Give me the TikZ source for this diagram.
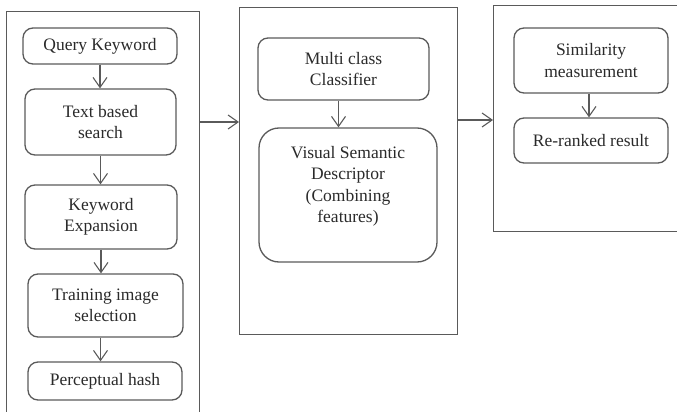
\documentclass[tikz,border=0pt]{standalone}
\usepackage{fontspec}
\setmainfont{Liberation Serif}
\usetikzlibrary{arrows.meta,positioning}
\definecolor{edge}{HTML}{5A5A5A}
\definecolor{ink}{HTML}{2A2A2A}
\tikzset{
  stepbox/.style={draw=edge, line width=1.3pt, rounded corners=10pt, align=center,
    text=ink, font=\fontsize{17.5}{21.5}\selectfont, inner sep=0pt},
  container/.style={draw=edge, line width=1.4pt, inner sep=0pt},
  arr/.style={draw=edge, line width=1.1pt, -{Straight Barb[length=10pt,width=14pt,line width=1.1pt]}}
}
\begin{document}
\begin{tikzpicture}[x=1pt,y=-1pt]
\useasboundingbox (0,0) rectangle (677,412);
\clip (0,0) rectangle (677,412);
% containers
\node[container, minimum width=193pt, minimum height=414pt, anchor=north west] (L) at (6,11) {};
\node[container, minimum width=218pt, minimum height=327pt, anchor=north west] (M) at (239,7) {};
\node[container, minimum width=200pt, minimum height=226pt, anchor=north west] (R) at (493,5) {};
% left column
\node[stepbox, minimum width=154pt, minimum height=36pt] (q) at (100,46) {Query Keyword};
\node[stepbox, minimum width=151pt, minimum height=66pt] (t) at (100.5,122) {Text based\\search};
\node[stepbox, minimum width=152pt, minimum height=64pt] (k) at (101,217) {Keyword\\Expansion};
\node[stepbox, minimum width=155pt, minimum height=63pt] (tr) at (105.5,305.5) {Training image\\selection};
\node[stepbox, minimum width=154pt, minimum height=38pt] (p) at (105,381) {Perceptual hash};
% middle
\node[stepbox, minimum width=171pt, minimum height=62pt] (mc) at (343.5,69) {Multi class\\Classifier};
\node[stepbox, rounded corners=20pt, minimum width=178pt, minimum height=134pt] (v) at (348,195)
  {Visual Semantic\\Descriptor\\(Combining\\features)\\\mbox{}};
% right
\node[stepbox, minimum width=154pt, minimum height=65pt] (s) at (591,60.5) {Similarity\\measurement};
\node[stepbox, minimum width=154pt, minimum height=45pt] (rr) at (591,140.5) {Re-ranked result};
% arrows
\draw[arr] (q.south) -- (q.south |- t.north);
\draw[arr] (t.south) -- (t.south |- k.north);
\draw[arr] (k.south) -- (k.south |- tr.north);
\draw[arr] ([xshift=-5pt]tr.south) -- ([xshift=-5pt]tr.south |- p.north);
\draw[arr] ([xshift=-5pt]mc.south) -- ([xshift=-5pt]mc.south |- v.north);
\draw[arr] ([xshift=-2pt]s.south) -- ([xshift=-2pt]s.south |- rr.north);
\coordinate (a1) at (0,122);
\coordinate (a2) at (0,120);
\draw[arr] (L.east |- a1) -- (M.west |- a1);
\draw[arr] (M.east |- a2) -- (R.west |- a2);
\end{tikzpicture}
\end{document}
